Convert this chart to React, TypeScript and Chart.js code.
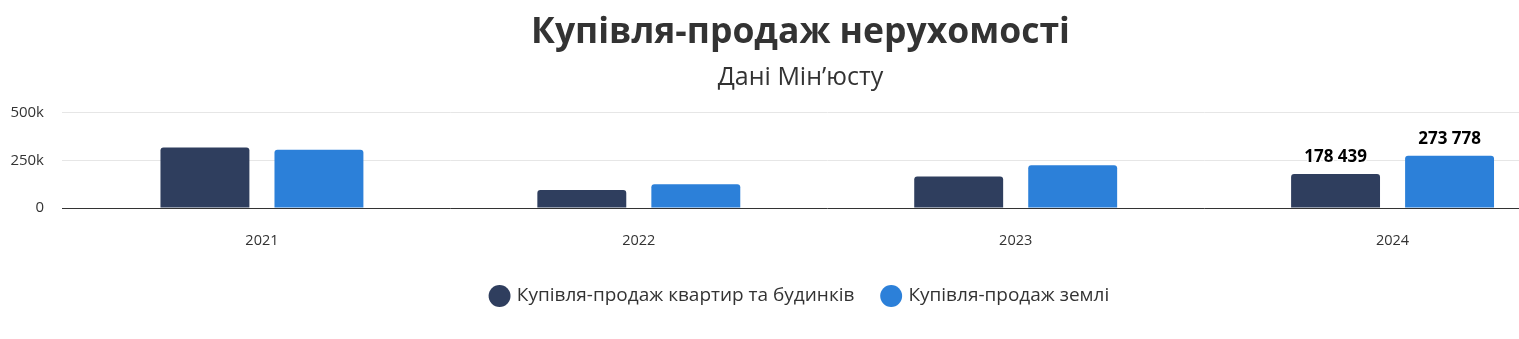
import React, { useEffect, useRef } from "react";
import { Chart, registerables } from "chart.js";

Chart.register(...registerables);

const categories = ["2021", "2022", "2023", "2024"];
const seriesNames = ["Купівля-продаж квартир та будинків", "Купівля-продаж землі"];
const flatsValues = [317000, 94000, 165000, 178439];
const landValues = [305000, 125000, 224000, 273778];
const labelledIndex = [3];
const yTickValues = [0, 250000, 500000];
const yTickLabels = ["0", "250k", "500k"];
const titleText = "Купівля-продаж нерухомості";
const subtitleText = "Дані Мін’юсту";

const FONT = "'Open Sans', 'Noto Sans', sans-serif";

const fmt = (v: number) => String(v).replace(/\B(?=(\d{3})+(?!\d))/g, " ");

const dataLabels = {
  id: "dataLabels",
  afterDatasetsDraw(chart: any) {
    const ctx = chart.ctx;
    ctx.save();
    ctx.font = `bold 17px ${FONT}`;
    ctx.fillStyle = "#000000";
    ctx.textAlign = "center";
    ctx.textBaseline = "middle";
    chart.data.datasets.forEach((ds: any, di: number) => {
      const meta = chart.getDatasetMeta(di);
      labelledIndex.forEach((i) => {
        const el = meta.data[i];
        if (!el) return;
        ctx.lineWidth = 3;
        ctx.strokeStyle = "#ffffff";
        ctx.lineJoin = "round";
        ctx.strokeText(fmt(ds.data[i]), el.x, el.y - 17);
        ctx.fillText(fmt(ds.data[i]), el.x, el.y - 17);
      });
    });
    ctx.restore();
  },
};

// centre title, subtitle and legend over the full chart width
const centreBlocks = {
  id: "centreBlocks",
  afterLayout(chart: any) {
    (chart.boxes || []).forEach((b: any) => {
      if (b.axis) return;
      if (b.position === "top" || b.position === "bottom") {
        b.left = 0;
        b.right = 1601;
        b.width = 1601;
      }
    });
  },
};

export default function App() {
  const ref = useRef<HTMLCanvasElement>(null);
  useEffect(() => {
    if (!ref.current) return;
    const chart = new Chart(ref.current, {
      type: "bar",
      data: {
        labels: categories,
        datasets: [
          {
            label: seriesNames[0],
            data: flatsValues,
            backgroundColor: "#2f3e5e",
            borderColor: "#2f3e5e",
            borderWidth: 0,
            borderRadius: 3,
            borderSkipped: "bottom",
            categoryPercentage: 0.605,
            barPercentage: 0.78,
          },
          {
            label: seriesNames[1],
            data: landValues,
            backgroundColor: "#2c80d9",
            borderColor: "#2c80d9",
            borderWidth: 0,
            borderRadius: 3,
            borderSkipped: "bottom",
            categoryPercentage: 0.605,
            barPercentage: 0.78,
          },
        ],
      },
      options: {
        responsive: false,
        animation: false,
        layout: { padding: { left: 0, right: 19, top: 0, bottom: 23.5 } },
        plugins: {
          title: {
            display: true,
            text: titleText,
            color: "#333333",
            font: { family: FONT, size: 35.5, weight: "bold" },
            padding: { top: 12, bottom: 5 },
          },
          subtitle: {
            display: true,
            text: subtitleText,
            color: "#333333",
            font: { family: FONT, size: 25 },
            padding: { top: 3, bottom: 20 },
          },
          legend: {
            position: "bottom",
            labels: {
              usePointStyle: true,
              pointStyle: "circle",
              boxHeight: 15.5,
              boxWidth: 15.5,
              padding: 29,
              color: "#333333",
              font: { family: FONT, size: 19 },
            },
          },
          tooltip: { enabled: false },
        },
        scales: {
          x: {
            grid: { display: false },
            border: { display: false },
            ticks: { color: "#333333", padding: 16, font: { family: FONT, size: 14.5 } },
            afterFit: (s: any) => {
              s.height = 49.5;
            },
          },
          y: {
            min: 0,
            max: 500000,
            afterBuildTicks: (s: any) => {
              s.ticks = yTickValues.map((v) => ({ value: v }));
            },
            border: { display: false },
            grid: {
              color: (c: any) => (c.tick && c.tick.value === 0 ? "#333333" : "#e6e6e6"),
              tickLength: 11.5,
            },
            ticks: {
              color: "#333333",
              padding: 18,
              font: { family: FONT, size: 15 },
              callback: (v: any) => {
                const i = yTickValues.indexOf(Number(v));
                return i >= 0 ? yTickLabels[i] : "";
              },
            },
            afterFit: (s: any) => {
              s.width = 73.5;
            },
          },
        },
      },
      plugins: [dataLabels, centreBlocks],
    });
    return () => chart.destroy();
  }, []);
  return (
    <div style={{ position: "absolute", left: 0, top: 0, width: 1519, height: 339, overflow: "hidden", background: "#fff" }}>
      <canvas ref={ref} width={1600} height={339} style={{ display: "block", width: 1600, height: 339 }} />
    </div>
  );
}
